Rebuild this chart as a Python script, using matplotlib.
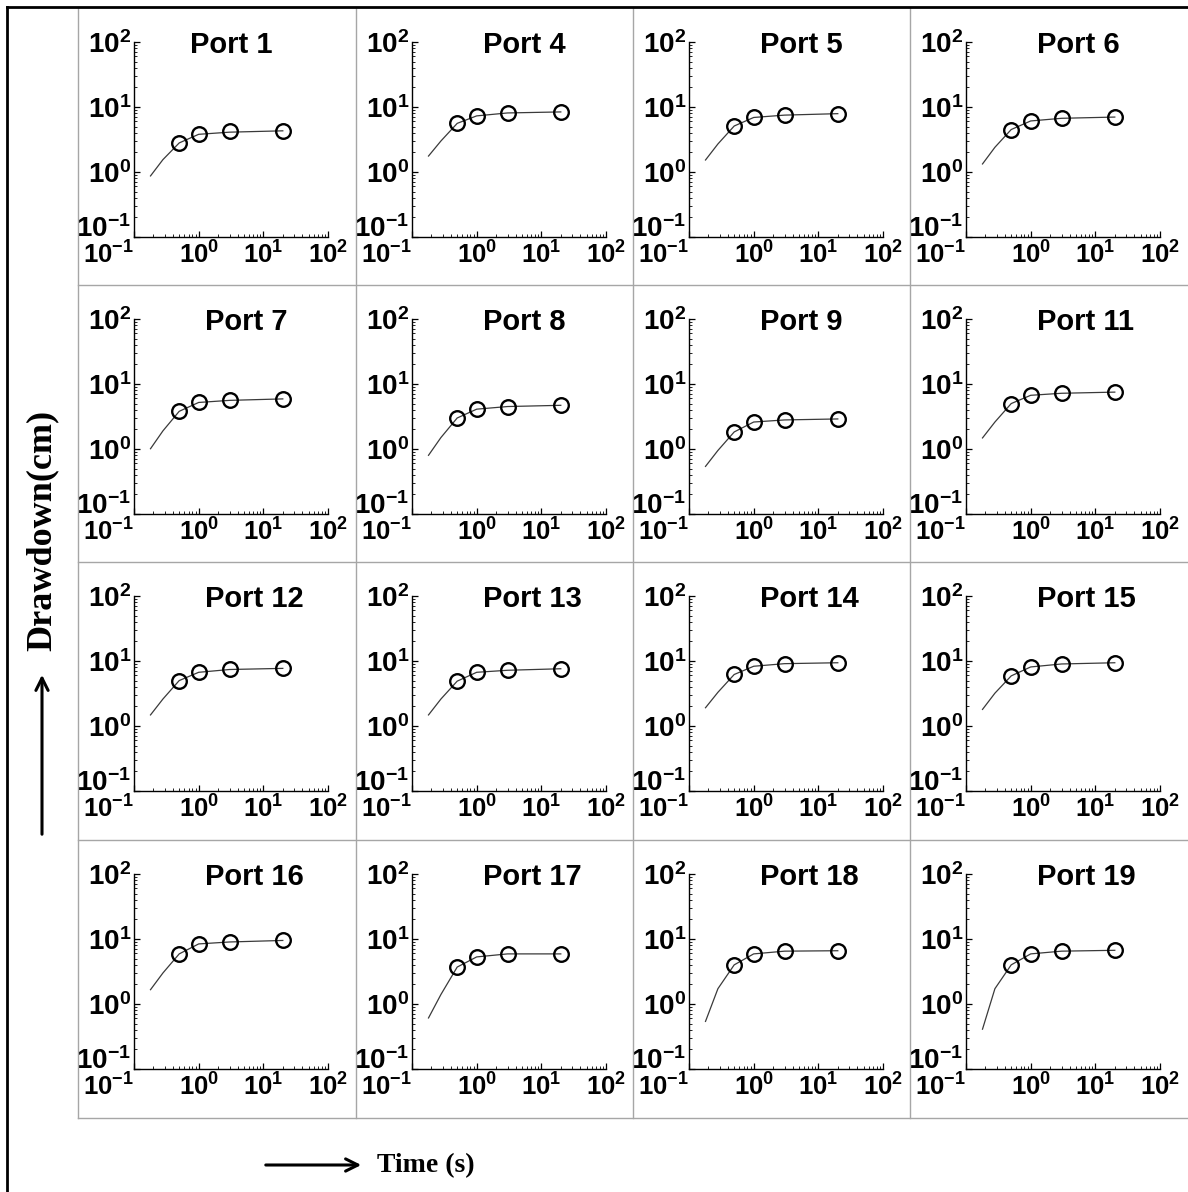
import matplotlib
matplotlib.use("Agg")
import matplotlib.pyplot as plt
from matplotlib.lines import Line2D
from matplotlib.patches import FancyArrowPatch
from matplotlib.ticker import FixedLocator, LogLocator, NullFormatter

plt.rcParams["font.family"] = ["Liberation Sans", "DejaVu Sans"]
plt.rcParams["mathtext.fontset"] = "custom"
plt.rcParams["mathtext.rm"] = "Liberation Sans:bold"
plt.rcParams["mathtext.it"] = "Liberation Sans:bold"
plt.rcParams["mathtext.bf"] = "Liberation Sans:bold"

# ---- data ---------------------------------------------------------------
ports = [1, 4, 5, 6, 7, 8, 9, 11, 12, 13, 14, 15, 16, 17, 18, 19]

# observation times (s) and observed drawdown (cm)
obs_time = [0.5, 1.0, 3.0, 20.0]
obs_drawdown = {
    1: [2.8, 3.8, 4.2, 4.3],
    4: [5.6, 7.3, 8.2, 8.4],
    5: [5.1, 6.9, 7.5, 7.9],
    6: [4.5, 6.1, 6.7, 7.0],
    7: [3.8, 5.2, 5.6, 5.9],
    8: [3.0, 4.1, 4.5, 4.7],
    9: [1.83, 2.6, 2.8, 2.9],
    11: [5.0, 6.7, 7.2, 7.5],
    12: [5.0, 6.7, 7.4, 7.7],
    13: [4.9, 6.7, 7.2, 7.6],
    14: [6.2, 8.3, 9.1, 9.4],
    15: [5.9, 8.1, 9.0, 9.4],
    16: [5.9, 8.4, 9.0, 9.5],
    17: [3.7, 5.3, 5.9, 5.9],
    18: [4.0, 5.9, 6.5, 6.6],
    19: [4.0, 5.9, 6.5, 6.7],
}

# simulated drawdown curve (cm)
sim_time = [0.18, 0.28, 0.5, 1.0, 3.0, 20.0]
sim_drawdown = {
    1: [0.87, 1.55, 2.8, 3.8, 4.1, 4.3],
    4: [1.76, 3.0, 5.6, 7.3, 8.1, 8.4],
    5: [1.53, 2.7, 5.1, 6.9, 7.5, 7.9],
    6: [1.33, 2.4, 4.5, 6.1, 6.7, 7.0],
    7: [1.01, 1.9, 3.8, 5.2, 5.6, 5.9],
    8: [0.80, 1.5, 3.0, 4.1, 4.5, 4.7],
    9: [0.54, 0.95, 1.83, 2.6, 2.8, 2.9],
    11: [1.48, 2.6, 5.0, 6.7, 7.2, 7.5],
    12: [1.48, 2.6, 5.0, 6.7, 7.4, 7.7],
    13: [1.48, 2.6, 4.9, 6.7, 7.2, 7.6],
    14: [1.91, 3.3, 6.2, 8.3, 9.1, 9.4],
    15: [1.80, 3.2, 5.9, 8.1, 9.0, 9.4],
    16: [1.66, 3.0, 5.9, 8.4, 9.0, 9.5],
    17: [0.61, 1.4, 3.7, 5.3, 5.9, 5.9],
    18: [0.54, 1.72, 4.0, 5.9, 6.5, 6.6],
    19: [0.41, 1.72, 4.0, 5.9, 6.5, 6.7],
}

decade_ticks = [0.1, 1, 10, 100]
decade_labels = [r"$10^{-1}$", r"$10^{0}$", r"$10^{1}$", r"$10^{2}$"]

# ---- figure -------------------------------------------------------------
W, H = 1188, 1192
fig = plt.figure(figsize=(W / 100, H / 100), dpi=100)


def fx(x):
    return x / W


def fy(y):
    return 1 - y / H


cell_left = [78, 356, 633, 910]
cell_top = [8, 285, 562, 840]
ax_w, ax_h = 194, 195

# panel grid lines
grid_kw = dict(color="#a6a6a6", lw=1.0, transform=fig.transFigure)
for x in cell_left:
    fig.add_artist(Line2D([fx(x), fx(x)], [fy(8), fy(1118)], **grid_kw))
for y in cell_top[1:] + [1118]:
    fig.add_artist(Line2D([fx(78), fx(1188)], [fy(y), fy(y)], **grid_kw))

# outer frame
frame_kw = dict(color="black", lw=2.0, transform=fig.transFigure)
fig.add_artist(Line2D([fx(7), fx(7)], [fy(7), fy(1192)], **frame_kw))
fig.add_artist(Line2D([fx(7), fx(1188)], [fy(7), fy(7)], **frame_kw))

for i, port in enumerate(ports):
    r, c = divmod(i, 4)
    left = cell_left[c] + 56
    top = cell_top[r] + 34
    ax = fig.add_axes([fx(left), fy(top + ax_h), ax_w / W, ax_h / H])
    ax.set_xscale("log")
    ax.set_yscale("log")
    ax.set_xlim(0.1, 100)
    ax.set_ylim(0.1, 100)

    ax.plot(sim_time, sim_drawdown[port], color="#3a3a3a", lw=0.9, zorder=2)
    ax.plot(obs_time, obs_drawdown[port], linestyle="none", marker="o",
            ms=10.5, mfc="none", mec="black", mew=1.7, zorder=3)

    for s in ("top", "right"):
        ax.spines[s].set_visible(False)
    for s in ("left", "bottom"):
        ax.spines[s].set_linewidth(1.0)

    for axis in (ax.xaxis, ax.yaxis):
        axis.set_major_locator(FixedLocator(decade_ticks))
        axis.set_minor_locator(LogLocator(base=10, subs=range(2, 10), numticks=20))
        axis.set_minor_formatter(NullFormatter())
    ax.set_xticks(decade_ticks, decade_labels)
    ax.set_yticks(decade_ticks, decade_labels)
    ax.tick_params(which="major", direction="in", length=4, width=0.9)
    ax.tick_params(which="minor", direction="in", length=2, width=0.6)
    ax.tick_params(axis="y", which="major", labelsize=20, pad=2)
    ax.tick_params(axis="x", which="major", labelsize=18.5, pad=3)
    ax.xaxis.get_major_ticks()[0].label1.set_horizontalalignment("right")
    ax.yaxis.get_major_ticks()[0].label1.set_verticalalignment("baseline")

    title_x = 0.29 if port == 1 else 0.365
    ax.text(title_x, 0.985, f"Port {port}", transform=ax.transAxes,
            ha="left", va="center", fontsize=21, fontweight="bold")

# axis captions with arrows
fig.text(fx(42), fy(530), "Drawdown(cm)", rotation=90, ha="center", va="center",
         fontsize=26, fontweight="bold", family=["Liberation Serif", "DejaVu Serif"])
fig.add_artist(FancyArrowPatch((fx(42), fy(837)), (fx(42), fy(672)),
                               transform=fig.transFigure, arrowstyle="->",
                               mutation_scale=22, lw=2.2, color="black"))
fig.add_artist(FancyArrowPatch((fx(263), fy(1165)), (fx(364), fy(1165)),
                               transform=fig.transFigure, arrowstyle="->",
                               mutation_scale=22, lw=2.2, color="black"))
fig.text(fx(377), fy(1166), "Time (s)", ha="left", va="center",
         fontsize=20, fontweight="bold", family=["Liberation Serif", "DejaVu Serif"])

fig.savefig("out.png", dpi=100)
